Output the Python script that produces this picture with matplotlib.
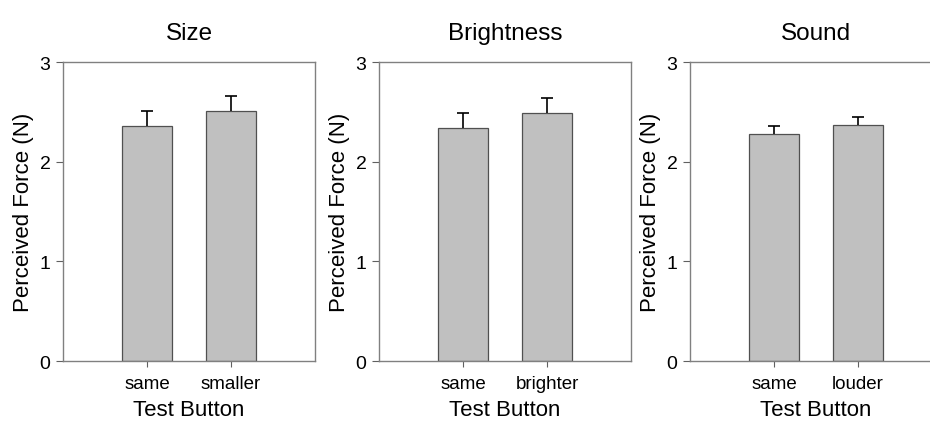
import numpy as np
import matplotlib.pyplot as plt

plt.rcParams.update({
    'font.family': ['Liberation Sans', 'DejaVu Sans'],
    'font.size': 12,
})

# data
titles = ['Size', 'Brightness', 'Sound']
labels = [['same', 'smaller'], ['same', 'brighter'], ['same', 'louder']]
means = [[2.36, 2.51], [2.34, 2.49], [2.28, 2.37]]
errors = [[0.15, 0.15], [0.15, 0.15], [0.08, 0.08]]

lefts = [0.0677, 0.4075, 0.742]
fig = plt.figure(figsize=(9.3, 4.27), dpi=100)

for i in range(3):
    ax = fig.add_axes([lefts[i], 0.152, 0.271, 0.700])
    x = np.arange(1, 3)
    ax.bar(x, means[i], width=0.6, color='#c0c0c0', edgecolor='#505050', linewidth=0.9, zorder=2)
    eb = ax.errorbar(x, means[i], yerr=[np.zeros(2), errors[i]], fmt='none', ecolor='black',
                     elinewidth=1.2, capsize=4.5, capthick=1.2, zorder=3)
    eb[1][0].set_visible(False)  # hide the lower cap
    ax.set_xlim(0, 3)
    ax.set_ylim(0, 3)
    ax.set_yticks([0, 1, 2, 3])
    ax.set_xticks(x)
    ax.set_xticklabels(labels[i])
    ax.tick_params(axis='y', direction='out', length=5, color='#606060', labelsize=14, pad=4)
    ax.tick_params(axis='x', direction='out', length=4, color='#606060', labelsize=13.5, pad=6)
    for s in ax.spines.values():
        s.set_color('#808080')
        s.set_linewidth(1.0)
    ax.set_ylabel('Perceived Force (N)', fontsize=16, labelpad=4)
    ax.set_xlabel('Test Button', fontsize=16, labelpad=5)
    ax.set_title(titles[i], fontsize=17.5, pad=17)

fig.savefig('out.png', dpi=100)
